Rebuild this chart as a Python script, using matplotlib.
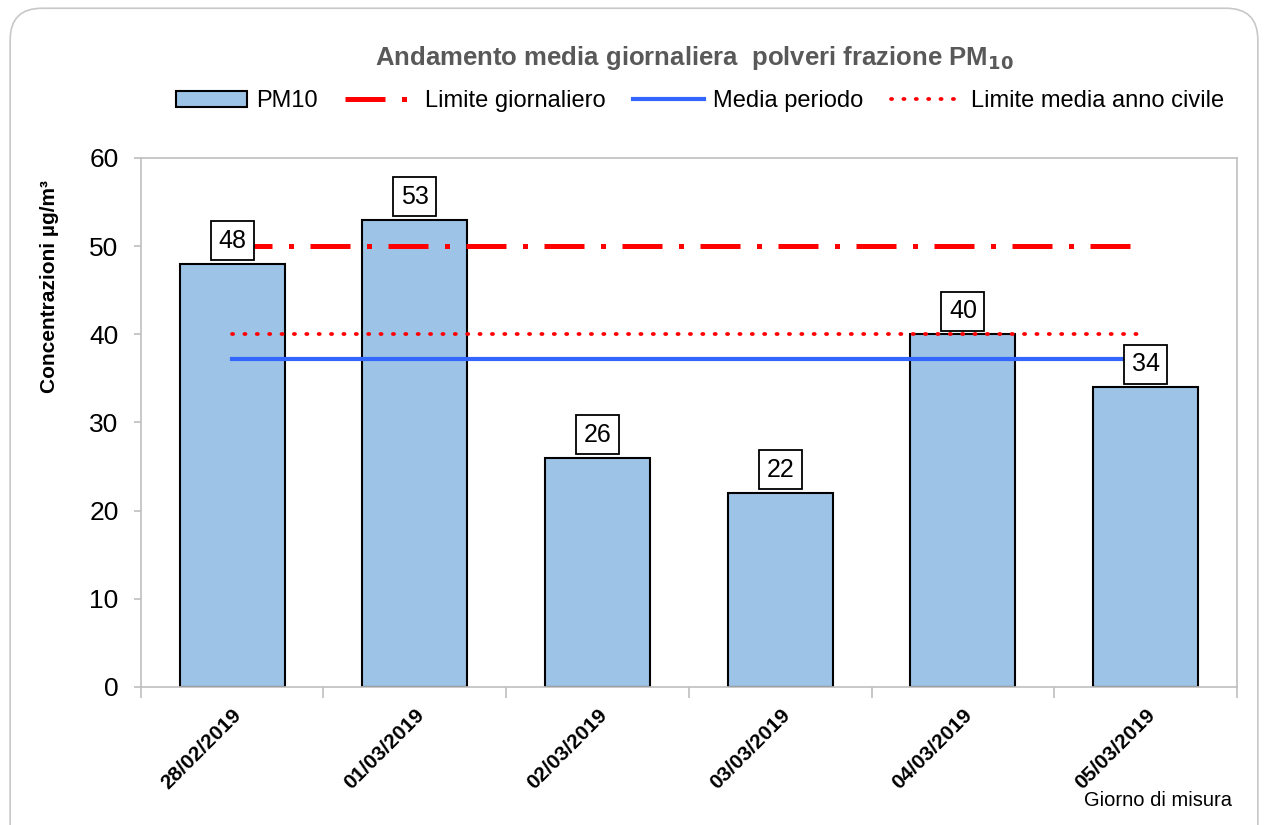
import numpy as np
import matplotlib.pyplot as plt
from matplotlib.patches import FancyBboxPatch, Patch
from matplotlib.lines import Line2D

plt.rcParams['font.family'] = ['Liberation Sans', 'DejaVu Sans']

# Data
giorni = ["28/02/2019", "01/03/2019", "02/03/2019", "03/03/2019", "04/03/2019", "05/03/2019"]
pm10 = [48, 53, 26, 22, 40, 34]
limite_giornaliero = 50
limite_annuo = 40
media_periodo = np.mean(pm10)

dash_lg = (8, 3.3, 1, 3.3)
dot_la = (0.3, 3.0)

fig = plt.figure(figsize=(12.68, 8.25), dpi=100)
ax = fig.add_axes([0.111, 0.1673, 0.8645, 0.6412])

# rounded outer frame
frame = FancyBboxPatch((0.008, -0.05), 0.984, 1.04, boxstyle="round,pad=0,rounding_size=0.025",
                       transform=fig.transFigure, fc="white", ec="#c8c8c8", lw=1.2,
                       mutation_aspect=1268 / 825, zorder=-10)
fig.patches.append(frame)

x = np.arange(len(giorni))
bars = ax.bar(x, pm10, width=0.575, color="#9dc3e6", edgecolor="black", linewidth=1.5, zorder=2)

line_lg, = ax.plot([x[0], x[-1]], [limite_giornaliero] * 2, color="red", lw=3.6, zorder=3)
line_lg.set_dashes(dash_lg)
line_mp, = ax.plot([x[0], x[-1]], [media_periodo] * 2, color="#3366ff", lw=3, zorder=3)
line_la, = ax.plot([x[0], x[-1]], [limite_annuo] * 2, color="red", lw=2.7, zorder=3)
line_la.set_dashes(dot_la)
line_la.set_dash_capstyle("round")

for xi, v in zip(x, pm10):
    ax.annotate(f"{v}", (xi, v), xytext=(0, 8), textcoords="offset points",
                ha="center", va="bottom", fontsize=18, zorder=5,
                bbox=dict(boxstyle="square,pad=0.3", fc="white", ec="black", lw=1.3))

ax.set_xlim(-0.5, len(giorni) - 0.5)
ax.set_ylim(0, 60)
ax.set_yticks(range(0, 61, 10))
ax.tick_params(axis="y", labelsize=19, length=5, color="#bfbfbf", width=1.2, pad=11)
ax.set_xticks(x)
ax.set_xticklabels(giorni, rotation=45, ha="right", rotation_mode="anchor",
                   fontsize=15, fontweight="bold")
ax.tick_params(axis="x", length=0, pad=13)
ax.set_xticks(np.arange(-0.5, len(giorni)), minor=True)
ax.tick_params(axis="x", which="minor", length=8, color="#bfbfbf", width=1.2)
for s in ax.spines.values():
    s.set_color("#bfbfbf")
    s.set_linewidth(1.2)

fig.text(0.039, 0.653, "Concentrazioni µg/m³", rotation=90, ha="center", va="center",
         fontsize=15, fontweight="bold")
fig.text(0.972, 0.03, "Giorno di misura", ha="right", va="center", fontsize=14.5)
fig.text(0.548, 0.93, "Andamento media giornaliera  polveri frazione PM$_{\\mathbf{10}}$",
         ha="center", va="center", fontsize=18.5, fontweight="bold", color="#595959")

handles = [Patch(fc="#9dc3e6", ec="black", lw=1.5),
           Line2D([], [], color="red", lw=3.6, dashes=dash_lg),
           Line2D([], [], color="#3366ff", lw=3),
           Line2D([], [], color="red", lw=2.7, dashes=dot_la, dash_capstyle="round")]
labels = ["PM10", "Limite giornaliero", "Media periodo", "Limite media anno civile"]
fig.legend(handles, labels, loc="center", bbox_to_anchor=(0.552, 0.877), ncol=4, frameon=False,
           fontsize=17, handlelength=3.0, handletextpad=0.4, columnspacing=1.15)

fig.savefig("out.png", dpi=100)
